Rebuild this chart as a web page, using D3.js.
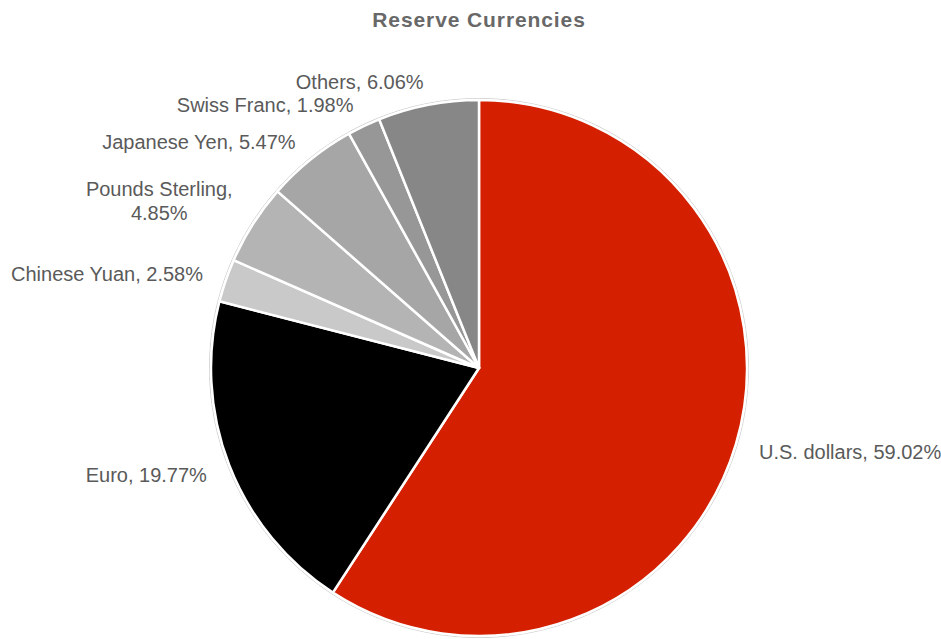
<!DOCTYPE html>
<html>
<head>
<meta charset="utf-8">
<script src="https://cdn.jsdelivr.net/npm/d3@7/dist/d3.min.js"></script>
<style>
  html, body { margin: 0; padding: 0; background: #ffffff; }
  svg { display: block; }
  text { font-family: "Liberation Sans", Arial, sans-serif; fill: #5a5a5a; }
</style>
</head>
<body>
<script>
// Share of global reserves by currency (%)
const currencies = ["U.S. dollars", "Euro", "Chinese Yuan", "Pounds Sterling", "Japanese Yen", "Swiss Franc", "Others"];
const shares = [59.02, 19.77, 2.58, 4.85, 5.47, 1.98, 6.06];
const sliceColors = ["#d42000", "#000000", "#c9c9c9", "#b4b4b4", "#a6a6a6", "#979797", "#878787"];
const chartTitle = "Reserve Currencies";

const width = 941, height = 639;
const cx = 479, cy = 368, radius = 268;

const svg = d3.select("body").append("svg")
  .attr("width", width).attr("height", height);

svg.append("text")
  .attr("x", 479).attr("y", 27)
  .attr("text-anchor", "middle")
  .style("font-size", "21px").style("font-weight", "bold")
  .style("letter-spacing", "0.9px")
  .style("fill", "#686868")
  .text(chartTitle);

const data = currencies.map((name, i) => ({ name, value: shares[i], color: sliceColors[i] }));

const pie = d3.pie().value(d => d.value).sort(null);
const arcs = pie(data);
const arc = d3.arc().innerRadius(0).outerRadius(radius);

const g = svg.append("g").attr("transform", `translate(${cx},${cy})`);

// thin grey rim around the pie
g.append("circle")
  .attr("r", radius + 1.5)
  .attr("fill", "none")
  .attr("stroke", "#cfcfcf")
  .attr("stroke-width", 1);

g.selectAll("path.slice")
  .data(arcs)
  .enter().append("path")
  .attr("class", "slice")
  .attr("d", arc)
  .attr("fill", d => d.data.color)
  .attr("stroke", "#ffffff")
  .attr("stroke-width", 2.5)
  .attr("stroke-linejoin", "round");

// outside-end labels placed along each slice's mid angle
const labelR = radius + 24;
const fmt = v => v.toFixed(2) + "%";
arcs.forEach(d => {
  const a = (d.startAngle + d.endAngle) / 2;
  const x = Math.sin(a) * labelR;
  const y = -Math.cos(a) * labelR;
  const right = Math.sin(a) > 0;
  const t = g.append("text")
    .style("font-size", "20px")
    .attr("text-anchor", right ? "start" : "end");
  if (d.data.name === "Pounds Sterling") {
    // wrapped onto two centred lines
    const line1 = d.data.name + ",";
    const line2 = fmt(d.data.value);
    const tmp = t.text(line1);
    const w = tmp.node().getComputedTextLength();
    t.text(null).attr("text-anchor", "middle");
    const mx = x - w / 2;
    t.append("tspan").attr("x", mx).attr("y", y - 15).text(line1);
    t.append("tspan").attr("x", mx).attr("y", y + 9).text(line2);
  } else {
    t.attr("x", x).attr("y", y + 8)
      .text(d.data.name + ", " + fmt(d.data.value));
  }
});
</script>
</body>
</html>
